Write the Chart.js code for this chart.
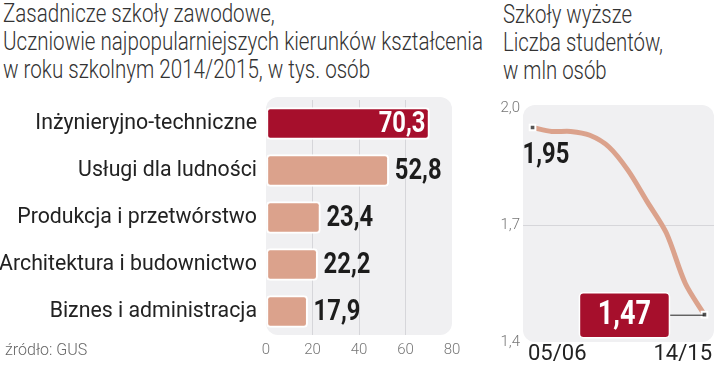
<!DOCTYPE html>
<html>
<head>
<meta charset="utf-8">
<script src="https://cdn.jsdelivr.net/npm/chart.js@4.4.1/dist/chart.umd.min.js"></script>
<style>
  body { margin: 0; background: #fff; width: 720px; height: 367px; overflow: hidden; position: relative; }
  .title { position: absolute; top: 0; font-family: Roboto, sans-serif; font-weight: 300; font-size: 25px; line-height: 28px; color: #333; white-space: nowrap; transform-origin: 0 0; }
  .title span { display: block; }
  #barCanvas { position: absolute; left: 0; top: 0; }
  #lineCanvas { position: absolute; left: 490px; top: 0; }
  .source { position: absolute; left: 5px; top: 340px; font-family: Roboto, sans-serif; font-weight: 300; font-size: 16px; color: #666; }
</style>
</head>
<body>
<div class="title" id="t1" style="left:3px"><span>Zasadnicze szkoły zawodowe,</span><span id="t1w">Uczniowie najpopularniejszych kierunków kształcenia</span><span>w roku szkolnym 2014/2015, w tys. osób</span></div>
<div class="title" id="t2" style="left:503px;top:1px"><span>Szkoły wyższe</span><span id="t2w">Liczba studentów,</span><span>w mln osób</span></div>
<canvas id="barCanvas" width="480" height="367"></canvas>
<canvas id="lineCanvas" width="230" height="367"></canvas>
<div class="source">źródło: GUS</div>
<script>
// kierunki ksztalcenia, tys. osob
var barCategories = ['Inżynieryjno-techniczne', 'Usługi dla ludności', 'Produkcja i przetwórstwo', 'Architektura i budownictwo', 'Biznes i administracja'];
var barValues = [70.3, 52.8, 23.4, 22.2, 17.9];
var barTicks = [0, 20, 40, 60, 80];

// studenci, mln osob
var yearLabels = ['05/06', '06/07', '07/08', '08/09', '09/10', '10/11', '11/12', '12/13', '13/14', '14/15'];
var studentValues = [1.95, 1.94, 1.94, 1.93, 1.90, 1.84, 1.76, 1.68, 1.55, 1.47];
var studentTicks = [1.4, 1.7, 2.0];

var RED = '#a60f2c';
var SALMON = '#dba28c';

// condensed look for the headings: squeeze to the reference width
function squeeze(id, lineId, w) {
  var el = document.getElementById(id);
  var lw = document.getElementById(lineId).getBoundingClientRect().width;
  el.style.transform = 'scaleX(' + (w / lw) + ')';
}
document.getElementById('t1w').style.display = 'inline-block';
document.getElementById('t2w').style.display = 'inline-block';
squeeze('t1', 't1w', 480);
squeeze('t2', 't2w', 160);

function fmt(v, d) { return v.toFixed(d).replace('.', ','); }

function roundRect(ctx, x, y, w, h, r) {
  ctx.beginPath();
  ctx.moveTo(x + r, y);
  ctx.arcTo(x + w, y, x + w, y + h, r);
  ctx.arcTo(x + w, y + h, x, y + h, r);
  ctx.arcTo(x, y + h, x, y, r);
  ctx.arcTo(x, y, x + w, y, r);
  ctx.closePath();
}

// bold condensed numbers
function narrowText(ctx, txt, x, y, align, size, sx) {
  ctx.save();
  ctx.font = 'bold ' + size + 'px Roboto';
  ctx.textBaseline = 'middle';
  var w = ctx.measureText(txt).width * sx;
  var left = align === 'right' ? x - w : (align === 'center' ? x - w / 2 : x);
  ctx.translate(left, y);
  ctx.scale(sx, 1);
  ctx.textAlign = 'left';
  ctx.fillText(txt, 0, 0);
  ctx.restore();
}

var panel = {
  id: 'panel',
  beforeDraw: function (chart) {
    var a = chart.chartArea, ctx = chart.ctx;
    ctx.save();
    ctx.fillStyle = '#f0f0f2';
    roundRect(ctx, a.left, a.top - 3, a.right - a.left, a.bottom - a.top + 3, 12);
    ctx.fill();
    ctx.restore();
  }
};

var barLabels = {
  id: 'barLabels',
  afterDatasetsDraw: function (chart) {
    var ctx = chart.ctx;
    var meta = chart.getDatasetMeta(0);
    meta.data.forEach(function (bar, i) {
      var txt = fmt(barValues[i], 1);
      if (i === 0) {
        ctx.fillStyle = '#fff';
        narrowText(ctx, txt, bar.x - 4, bar.y + 1, 'right', 29, 0.82);
      } else {
        ctx.fillStyle = '#1c1c1c';
        narrowText(ctx, txt, bar.x + 6, bar.y + 1, 'left', 29, 0.82);
      }
    });
  }
};

new Chart(document.getElementById('barCanvas'), {
  type: 'bar',
  data: {
    labels: barCategories,
    datasets: [{
      data: barValues,
      backgroundColor: barValues.map(function (v, i) { return i === 0 ? RED : SALMON; }),
      borderColor: '#fff',
      borderWidth: 2,
      borderRadius: 4,
      borderSkipped: false,
      barThickness: 32
    }]
  },
  options: {
    indexAxis: 'y',
    responsive: false,
    animation: false,
    layout: { padding: { top: 100, right: 28 } },
    plugins: { legend: { display: false }, tooltip: { enabled: false } },
    scales: {
      x: {
        min: barTicks[0],
        max: barTicks[barTicks.length - 1],
        afterBuildTicks: function (s) { s.ticks = barTicks.map(function (v) { return { value: v }; }); },
        afterFit: function (s) { s.height = 32; },
        border: { display: false },
        grid: {
          drawTicks: false,
          color: function (c) { return (c.tick.value === 0 || c.tick.value === 80) ? 'rgba(0,0,0,0)' : '#d6d6da'; }
        },
        ticks: { padding: 6, color: '#777', font: { family: 'Roboto', size: 15, weight: '300' } }
      },
      y: {
        afterFit: function (s) { s.width = 266; },
        border: { display: false },
        grid: { display: false, drawTicks: false },
        ticks: { padding: 9, color: '#222', font: { family: 'Roboto', size: 21.3 } }
      }
    }
  },
  plugins: [panel, barLabels]
});

var lineLabels = {
  id: 'lineLabels',
  afterDatasetsDraw: function (chart) {
    var ctx = chart.ctx, a = chart.chartArea;
    var pts = chart.getDatasetMeta(0).data;
    var first = pts[0], last = pts[pts.length - 1];
    ctx.save();
    // pierwsza wartosc
    ctx.fillStyle = '#1c1c1c';
    narrowText(ctx, fmt(studentValues[0], 2), first.x - 10, first.y + 28, 'left', 29, 0.82);
    // ostatnia wartosc w ramce
    var bw = 90, bh = 45, bx = last.x - 125, by = last.y - 22;
    ctx.strokeStyle = '#222';
    ctx.lineWidth = 1;
    ctx.beginPath();
    ctx.moveTo(bx + bw, last.y + 0.5);
    ctx.lineTo(last.x, last.y + 0.5);
    ctx.stroke();
    roundRect(ctx, bx, by, bw, bh, 4);
    ctx.fillStyle = RED;
    ctx.fill();
    ctx.strokeStyle = '#fff';
    ctx.lineWidth = 1.5;
    ctx.stroke();
    ctx.fillStyle = '#fff';
    narrowText(ctx, fmt(studentValues[studentValues.length - 1], 2), bx + bw / 2, by + bh / 2 + 1, 'center', 33, 0.82);
    // osie lat
    ctx.font = '22px Roboto';
    ctx.fillStyle = '#222';
    ctx.textBaseline = 'middle';
    ctx.textAlign = 'left';
    ctx.fillText(yearLabels[0], a.left + 5, 354);
    ctx.textAlign = 'right';
    ctx.fillText(yearLabels[yearLabels.length - 1], a.right - 2, 354);
    ctx.restore();
  }
};

var endPoint = function (c) { return (c.dataIndex === 0 || c.dataIndex === studentValues.length - 1) ? 4 : 0; };

new Chart(document.getElementById('lineCanvas'), {
  type: 'line',
  data: {
    labels: yearLabels,
    datasets: [{
      data: studentValues,
      borderColor: SALMON,
      borderWidth: 5,
      tension: 0.3,
      pointStyle: 'rect',
      pointRadius: endPoint,
      pointBackgroundColor: '#555',
      pointBorderColor: '#fff',
      pointBorderWidth: 2
    }]
  },
  options: {
    responsive: false,
    animation: false,
    layout: { padding: { top: 108, right: 1, bottom: 25 } },
    plugins: { legend: { display: false }, tooltip: { enabled: false } },
    scales: {
      x: {
        offset: true,
        display: true,
        border: { display: false },
        grid: { display: false },
        ticks: { display: false },
        afterFit: function (s) { s.height = 0; }
      },
      y: {
        min: studentTicks[0],
        max: studentTicks[studentTicks.length - 1],
        afterBuildTicks: function (s) { s.ticks = studentTicks.map(function (v) { return { value: v }; }); },
        afterFit: function (s) { s.width = 33; },
        border: { display: false },
        grid: {
          drawTicks: false,
          color: function (c) { return c.tick.value === 1.7 ? '#d6d6da' : 'rgba(0,0,0,0)'; }
        },
        ticks: {
          padding: 3,
          color: '#777',
          font: { family: 'Roboto', size: 15, weight: '300' },
          callback: function (v) { return fmt(v, 1); }
        }
      }
    }
  },
  plugins: [panel, lineLabels]
});
</script>
</body>
</html>
